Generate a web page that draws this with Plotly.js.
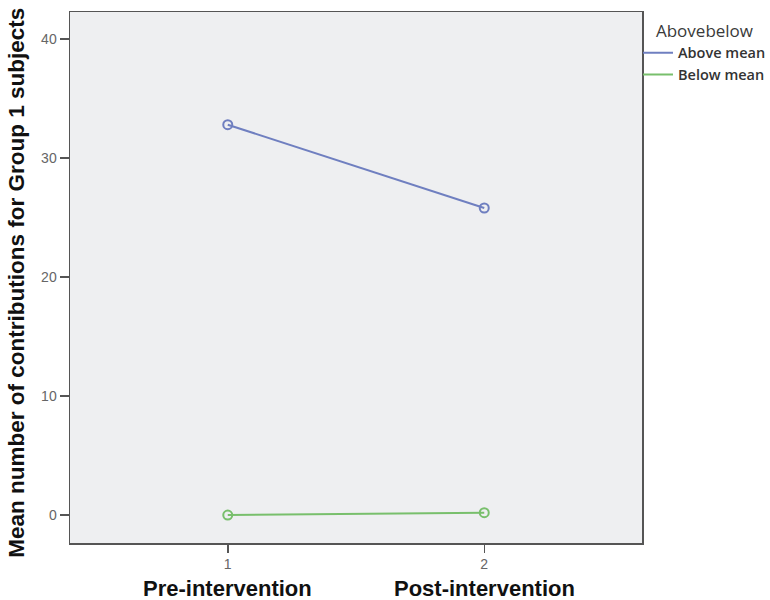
<!DOCTYPE html>
<html>
<head>
<meta charset="utf-8">
<script src="https://cdn.plot.ly/plotly-3.0.1.min.js"></script>
<style>body{margin:0;background:#fff;}#chart{width:770px;height:600px;}</style>
</head>
<body>
<div id="chart"></div>
<script>
const timePoints = [1, 2];
const timeLabels = ["Pre-intervention", "Post-intervention"];
const seriesNames = ["Above mean", "Below mean"];
const aboveMean = [32.8, 25.8];
const belowMean = [0.0, 0.2];
const yTicks = [0, 10, 20, 30, 40];
const yTitle = "Mean number of contributions for Group 1 subjects";

const colors = ["#6f7fc0", "#78bf6c"];
const seriesValues = [aboveMean, belowMean];

const traces = seriesNames.map((name, i) => ({
  x: timePoints,
  y: seriesValues[i],
  name: name,
  type: "scatter",
  mode: "lines+markers",
  showlegend: false,
  line: {color: colors[i], width: 2},
  marker: {symbol: "circle-open", size: 9, color: colors[i], line: {width: 2, color: colors[i]}}
}));

// legend entries show only a line (as in the reference)
const legendTraces = seriesNames.map((name, i) => ({
  x: [null], y: [null],
  name: name,
  type: "scatter",
  mode: "lines",
  line: {color: colors[i], width: 2}
}));

const boldFont = (size) => ({family: "Liberation Sans, Arial, sans-serif", size: size, color: "#111", weight: "bold"});

const annotations = timePoints.map((t, i) => ({
  x: t, xref: "x", y: 0, yref: "paper", yshift: -31,
  yanchor: "top", showarrow: false,
  text: timeLabels[i],
  font: boldFont(22)
}));

// y-axis title (placed as a rotated annotation to match the reference's offset)
annotations.push({
  x: 0, xref: "paper", xshift: -53, xanchor: "center",
  y: 0.49, yref: "paper", yanchor: "middle",
  textangle: -90, showarrow: false,
  text: yTitle,
  font: boldFont(22.5)
});

const layout = {
  width: 770, height: 600,
  margin: {l: 70, r: 128, t: 12, b: 57, autoexpand: false},
  paper_bgcolor: "#ffffff",
  plot_bgcolor: "#eeeff1",
  showlegend: true,
  legend: {
    x: 0.993, xanchor: "left", y: 0.995, yanchor: "top",
    title: {text: "Abovebelow", side: "top center", font: {family: "Open Sans, sans-serif", size: 17, color: "#3a3a3a", weight: "normal"}},
    font: {family: "Open Sans, sans-serif", size: 14.5, color: "#333", weight: 600},
    tracegroupgap: 0, itemwidth: 30,
    bgcolor: "rgba(0,0,0,0)"
  },
  xaxis: {
    range: [0.385, 2.615],
    tickvals: timePoints,
    ticktext: timePoints.map(String),
    ticks: "outside", ticklen: 8, tickcolor: "#555", tickwidth: 1.5,
    ticklabelstandoff: 0,
    showgrid: false, zeroline: false,
    showline: true, linecolor: "#555", linewidth: 1.5, mirror: true,
    tickfont: {family: "Liberation Sans, Arial, sans-serif", size: 14, color: "#666"}
  },
  yaxis: {
    range: [-2.35, 42.27],
    tickvals: yTicks,
    ticks: "outside", ticklen: 9, tickcolor: "#555", tickwidth: 1.5,
    showgrid: false, zeroline: false,
    showline: true, linecolor: "#555", linewidth: 1.5, mirror: true,
    tickfont: {family: "Liberation Sans, Arial, sans-serif", size: 14, color: "#666"}
  },
  annotations: annotations
};

Plotly.newPlot("chart", legendTraces.concat(traces), layout, {displayModeBar: false, staticPlot: true});
</script>
</body>
</html>
